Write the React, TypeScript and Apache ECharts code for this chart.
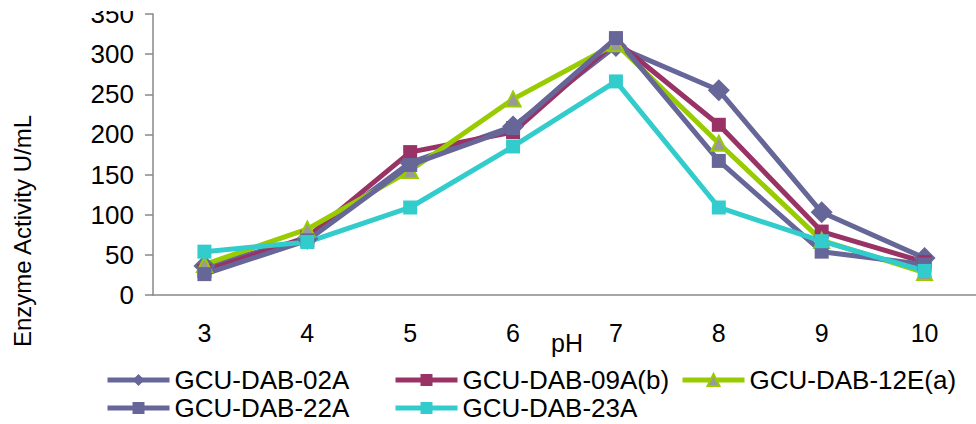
import React, { useEffect, useRef } from "react";
import * as echarts from "echarts";

const categories = ["3", "4", "5", "6", "7", "8", "9", "10"];
const seriesNames = ["GCU-DAB-02A", "GCU-DAB-09A(b)", "GCU-DAB-12E(a)", "GCU-DAB-22A", "GCU-DAB-23A"];
const s02A = [36, 70, 165, 210, 310, 255, 103, 46];
const s09Ab = [30, 72, 178, 203, 316, 212, 79, 41];
const s12Ea = [38, 82, 155, 244, 313, 189, 68, 28];
const s22A = [26, 68, 162, 208, 320, 167, 54, 38];
const s23A = [54, 66, 109, 185, 266, 109, 67, 30];
const yTicks = { min: 0, max: 350, interval: 50 };
const xName = "pH";
const yName = "Enzyme Activity U/mL";

const FONT = "'Liberation Sans', Arial, sans-serif";

export default function App() {
  const ref = useRef<HTMLDivElement>(null);
  useEffect(() => {
    if (!ref.current) return;
    const chart = echarts.init(ref.current, undefined, { renderer: "svg" });
    const mk = (name: string, data: number[], color: string, symbol: string, size: number, extra: any = {}) => ({
      name,
      type: "line",
      data,
      symbol,
      symbolSize: size,
      showSymbol: true,
      lineStyle: { color, width: 5 },
      itemStyle: { color, borderColor: color, borderWidth: 0, ...extra },
      emphasis: { disabled: true },
    });
    const legendPos = [
      { left: 105, top: 367 },
      { left: 393, top: 367 },
      { left: 680, top: 367 },
      { left: 105, top: 395 },
      { left: 393, top: 395 },
    ];
    chart.setOption({
      animation: false,
      grid: { left: 153, top: 14, width: 832, height: 281 },
      legend: seriesNames.map((n, i) => ({
        data: [n],
        left: legendPos[i].left,
        top: legendPos[i].top,
        itemWidth: 62,
        itemHeight: 15,
        padding: 0,
        lineStyle: { width: 5 },
        textStyle: { fontFamily: FONT, fontSize: 26, color: "#000" },
      })),
      xAxis: {
        type: "category",
        data: categories,
        boundaryGap: true,
        axisLine: { lineStyle: { color: "#888888", width: 1.5 } },
        axisTick: { show: false },
        axisLabel: { fontFamily: FONT, fontSize: 25, color: "#000", margin: 25 },
        splitLine: { show: false },
      },
      yAxis: {
        type: "value",
        min: yTicks.min,
        max: yTicks.max,
        interval: yTicks.interval,
        axisLine: { show: true, lineStyle: { color: "#888888", width: 1.5 } },
        axisTick: { show: true, length: 8, lineStyle: { color: "#888888", width: 1.5 } },
        axisLabel: { fontFamily: FONT, fontSize: 26, color: "#000", margin: 19 },
        splitLine: { show: false },
      },
      graphic: [
        { type: "rect", left: 0, top: 0, shape: { width: 150, height: 11 }, style: { fill: "#fff" }, z: 100 },
        {
          type: "text",
          x: 22,
          y: 231,
          rotation: Math.PI / 2,
          style: { text: yName, fontFamily: FONT, fontSize: 24, fill: "#000", align: "center", verticalAlign: "middle" },
        },
        {
          type: "text",
          x: 567,
          y: 343,
          style: { text: xName, fontFamily: FONT, fontSize: 25, fill: "#000", align: "center", verticalAlign: "middle" },
        },
      ],
      series: [
        mk(seriesNames[0], s02A, "#666699", "diamond", 22),
        mk(seriesNames[1], s09Ab, "#993366", "rect", 14),
        mk(seriesNames[2], s12Ea, "#99CC00", "triangle", 15, { color: "#999999", borderColor: "#99CC00", borderWidth: 2 }),
        mk(seriesNames[3], s22A, "#666699", "rect", 14),
        mk(seriesNames[4], s23A, "#33CCCC", "rect", 14),
      ],
    });
    return () => chart.dispose();
  }, []);
  return <div ref={ref} style={{ position: "absolute", left: 0, top: 0, width: 976, height: 424 }} />;
}
